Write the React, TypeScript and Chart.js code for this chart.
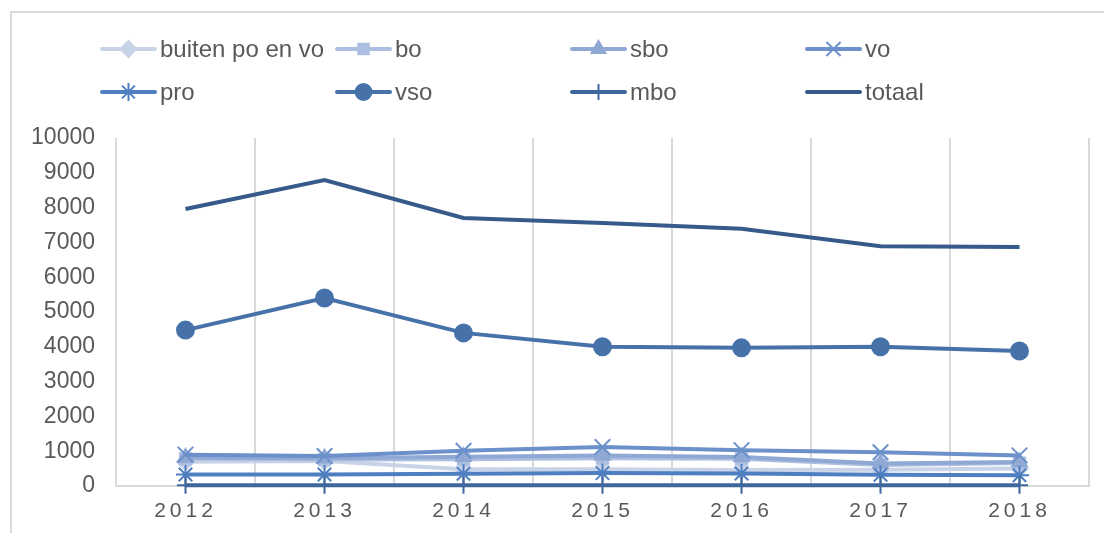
import React, { useEffect, useRef } from 'react';
import { Chart, registerables } from 'chart.js';
import { drawPoint } from 'chart.js/helpers';

Chart.register(...registerables);

const categories = ['2012', '2013', '2014', '2015', '2016', '2017', '2018'];

const buitenPoEnVo = [700, 720, 480, 480, 460, 470, 500];
const bo = [780, 760, 770, 800, 780, 600, 660];
const sbo = [820, 800, 840, 880, 830, 650, 690];
const vo = [900, 860, 1010, 1120, 1030, 970, 880];
const pro = [330, 330, 350, 370, 360, 320, 310];
const vso = [4480, 5400, 4400, 4000, 3970, 4000, 3880];
const mbo = [20, 20, 20, 20, 20, 20, 20];
const totaal = [7960, 8790, 7700, 7560, 7390, 6890, 6870];

const seriesNames = ['buiten po en vo', 'bo', 'sbo', 'vo', 'pro', 'vso', 'mbo', 'totaal'];
const seriesValues = [buitenPoEnVo, bo, sbo, vo, pro, vso, mbo, totaal];
const seriesColors = ['#c9d3e8', '#adbfe0', '#8fa8d4', '#6b90ca', '#4f7fc0', '#4672a9', '#3f679c', '#365b8b'];
const pointStyles: any[] = ['rectRot', 'rect', 'triangle', 'crossRot', 'star', 'circle', 'cross', false];
const pointSizes = [8.5, 8, 8.5, 11, 9.5, 8.5, 8.5, 0];
const legendSizes = [8, 7.5, 8, 10, 9, 8, 8, 0];

const yMax = 10000;
const yStep = 1000;

const W = 1104;
const H = 533;

export default function App() {
  const ref = useRef<HTMLCanvasElement | null>(null);

  useEffect(() => {
    const canvas = ref.current;
    if (!canvas) return;

    const frame = {
      id: 'frame',
      beforeDraw(chart: any) {
        const ctx = chart.ctx;
        ctx.save();
        ctx.strokeStyle = '#d9d9d9';
        ctx.lineWidth = 2;
        ctx.beginPath();
        ctx.moveTo(11, H);
        ctx.lineTo(11, 12);
        ctx.lineTo(W, 12);
        ctx.stroke();
        ctx.restore();
      },
      afterDatasetsDraw(chart: any) {
        (chart.ctx as any).letterSpacing = '4px';
      },
      afterDraw(chart: any) {
        const ctx = chart.ctx;
        (ctx as any).letterSpacing = '0px';
        const cols = [102, 337, 572, 807];
        const rows = [49, 92];
        const lineLen = 53;
        chart.data.datasets.forEach((ds: any, i: number) => {
          const x = cols[i % 4];
          const y = rows[Math.floor(i / 4)];
          ctx.save();
          ctx.strokeStyle = ds.borderColor;
          ctx.fillStyle = ds.borderColor;
          ctx.lineWidth = 4;
          ctx.lineCap = 'round';
          ctx.beginPath();
          ctx.moveTo(x, y);
          ctx.lineTo(x + lineLen, y);
          ctx.stroke();
          if (ds.pointStyle) {
            ctx.lineWidth = 2;
            ctx.lineCap = 'butt';
            drawPoint(ctx, { pointStyle: ds.pointStyle, radius: legendSizes[i], rotation: 0, borderWidth: 2 } as any, x + lineLen / 2, y);
          }
          ctx.fillStyle = '#595959';
          ctx.font = '24px "Liberation Sans", Arial, sans-serif';
          ctx.textBaseline = 'middle';
          ctx.textAlign = 'left';
          ctx.fillText(ds.label, x + lineLen + 5, y + 1);
          ctx.restore();
        });
      },
    };

    const datasets = seriesNames.map((name, i) => ({
      label: name,
      data: seriesValues[i],
      borderColor: seriesColors[i],
      backgroundColor: seriesColors[i],
      pointBackgroundColor: seriesColors[i],
      pointBorderColor: seriesColors[i],
      pointStyle: pointStyles[i],
      pointRadius: pointSizes[i],
      pointBorderWidth: 2,
      borderWidth: 4,
      tension: 0,
      fill: false,
      clip: false as any,
      order: -i,
    }));

    const chart = new Chart(canvas, {
      type: 'line',
      data: { labels: categories, datasets },
      options: {
        responsive: false,
        animation: false,
        devicePixelRatio: 1,
        layout: { padding: { top: 138, right: 15, bottom: 0, left: 0 } },
        plugins: { legend: { display: false }, tooltip: { enabled: false } },
        scales: {
          x: {
            type: 'category',
            offset: true,
            grid: { offset: true, color: '#d9d9d9', lineWidth: 2, drawTicks: false, z: -1 },
            border: { display: true, color: '#d9d9d9', width: 2 },
            ticks: {
              color: '#595959',
              font: { size: 21, family: '"Liberation Sans", Arial, sans-serif' },
              padding: 13,
              maxRotation: 0,
              autoSkip: false,
              z: 1,
            },
            afterFit(scale: any) {
              scale.height = 47;
            },
          },
          y: {
            min: 0,
            max: yMax,
            grid: { display: false, drawTicks: false },
            border: { display: false },
            ticks: {
              stepSize: yStep,
              color: '#595959',
              font: { size: 23, family: '"Liberation Sans", Arial, sans-serif' },
              padding: 21,
              callback: (v: any) => String(v),
            },
            afterFit(scale: any) {
              scale.width = 116;
            },
          },
        },
      },
      plugins: [frame],
    });

    return () => chart.destroy();
  }, []);

  return (
    <div style={{ position: 'fixed', left: 0, top: 0, width: W, height: H, background: '#ffffff' }}>
      <canvas ref={ref} width={W} height={H} style={{ width: W, height: H, display: 'block' }} />
    </div>
  );
}
